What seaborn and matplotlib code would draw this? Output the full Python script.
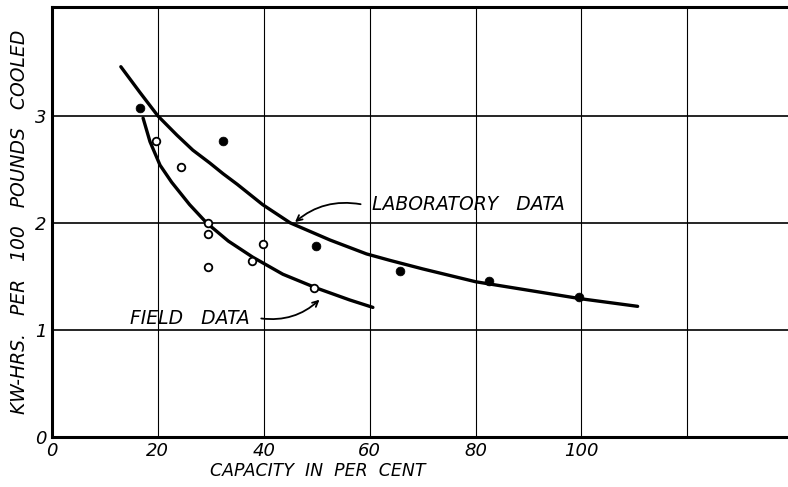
import numpy as np
import pandas as pd
import matplotlib
matplotlib.use("Agg")
import matplotlib.pyplot as plt
import seaborn as sns

# Pontos
lab_x = [16.6, 32.3, 49.8, 65.8, 82.6, 99.6]
lab_y = [3.07, 2.77, 1.78, 1.55, 1.46, 1.31]
field_x = [19.6, 24.3, 29.4, 29.4, 29.4, 37.7, 39.8, 49.4]
field_y = [2.77, 2.52, 2.00, 1.90, 1.59, 1.64, 1.80, 1.39]

# Curvas ajustadas
lab_curve_x = [13.0, 16.6, 20.0, 23.6, 26.6, 29.8, 32.3, 35.0, 39.8, 45.0,
               52.5, 59.4, 63.8, 70.0, 80.0, 90.0, 100.0, 110.6]
lab_curve_y = [3.46, 3.22, 3.00, 2.82, 2.68, 2.56, 2.46, 2.36, 2.17, 2.00,
               1.84, 1.71, 1.65, 1.57, 1.45, 1.37, 1.29, 1.22]
field_curve_x = [17.2, 18.5, 20.4, 22.6, 26.0, 29.2, 33.3, 37.9, 43.6, 50.0, 56.2, 60.6]
field_curve_y = [2.98, 2.76, 2.54, 2.38, 2.17, 2.00, 1.83, 1.68, 1.52, 1.39, 1.28, 1.21]

x_ticks = [0, 20, 40, 60, 80, 100]
y_ticks = [0, 1, 2, 3]

sns.set_style("white")
plt.rcParams['font.family'] = ['DejaVu Sans']
plt.rcParams['text.color'] = 'black'
plt.rcParams['axes.labelcolor'] = 'black'
plt.rcParams['xtick.color'] = 'black'
plt.rcParams['ytick.color'] = 'black'

fig = plt.figure(figsize=(7.88, 4.87), dpi=100)
ax = fig.add_axes([0.066, 0.103, 0.934, 0.883])

# grade
for gx in [20, 40, 60, 80, 100, 120]:
    ax.axvline(gx, color='black', lw=0.8, zorder=1)
for gy in [1, 2, 3]:
    ax.axhline(gy, color='black', lw=1.2, zorder=1)

lab_curve = pd.DataFrame({'x': lab_curve_x, 'y': lab_curve_y})
field_curve = pd.DataFrame({'x': field_curve_x, 'y': field_curve_y})
sns.lineplot(data=lab_curve, x='x', y='y', sort=False, color='black', lw=2.4, ax=ax, zorder=3)
sns.lineplot(data=field_curve, x='x', y='y', sort=False, color='black', lw=2.4, ax=ax, zorder=3)

lab = pd.DataFrame({'x': lab_x, 'y': lab_y})
field = pd.DataFrame({'x': field_x, 'y': field_y})
sns.scatterplot(data=lab, x='x', y='y', color='black', s=40, edgecolor='black', ax=ax, zorder=4)
sns.scatterplot(data=field, x='x', y='y', facecolor='white', edgecolor='black', linewidth=1.3,
                s=30, ax=ax, zorder=4)

ax.set_xlim(0, 139)
ax.set_ylim(0, 4.02)
ax.set_xticks(x_ticks)
ax.set_yticks(y_ticks)
ax.set_xticklabels([str(v) for v in x_ticks], fontstyle='italic', fontsize=13)
ax.set_yticklabels([str(v) for v in y_ticks], fontstyle='italic', fontsize=13)
ax.tick_params(length=0, pad=4, colors='black')

for s in ['left', 'bottom', 'top']:
    ax.spines[s].set_linewidth(2.2)
    ax.spines[s].set_color('black')
ax.spines['right'].set_visible(False)

ax.set_xlabel('CAPACITY  IN  PER  CENT', fontstyle='italic', fontsize=12.5)
ax.xaxis.set_label_coords(0.361, -0.058)
ax.set_ylabel('KW-HRS.   PER   100   POUNDS   COOLED', fontstyle='italic', fontsize=13.5, labelpad=4)

# rótulos com setas
ax.text(60.4, 2.17, 'LABORATORY   DATA', fontstyle='italic', fontsize=13.5, va='center', ha='left')
ax.annotate('', xy=(45.5, 1.99), xytext=(58.8, 2.17),
            arrowprops=dict(arrowstyle='->', color='black', lw=1.3,
                            connectionstyle='arc3,rad=0.25'))
ax.text(14.7, 1.11, 'FIELD   DATA', fontstyle='italic', fontsize=13.5, va='center', ha='left')
ax.annotate('', xy=(50.9, 1.30), xytext=(39.0, 1.11),
            arrowprops=dict(arrowstyle='->', color='black', lw=1.3,
                            connectionstyle='arc3,rad=0.25'))

fig.savefig('out.png', dpi=100)
